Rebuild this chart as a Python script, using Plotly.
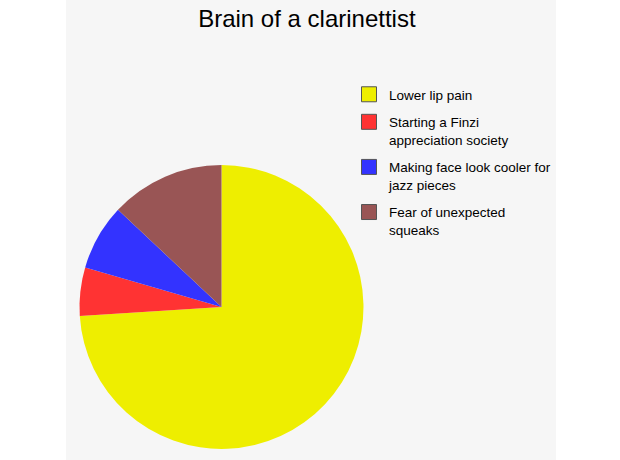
import plotly.graph_objects as go

# slices of the pie (percent)
labels = [
    "Lower lip pain",
    "Starting a Finzi<br>appreciation society",
    "Making face look cooler for<br>jazz pieces",
    "Fear of unexpected<br>squeaks",
]
values = [74, 5.5, 7.5, 13]
colors = ["#eeee00", "#ff3333", "#3333ff", "#995555"]

fig = go.Figure()

# the pie itself, starting at 12 o'clock and going clockwise
fig.add_trace(go.Pie(
    labels=labels,
    values=values,
    marker=dict(colors=colors, line=dict(width=0)),
    sort=False,
    direction="clockwise",
    rotation=0,
    textinfo="none",
    hoverinfo="label+percent",
    showlegend=False,
    domain=dict(x=[0.0276, 0.6071], y=[0.0239, 0.6413]),
))

# legend entries (one per slice) so the gap between items can be set
for lab, col in zip(labels, colors):
    fig.add_trace(go.Scatter(
        x=[None], y=[None], mode="markers", name=lab, legendgroup=lab,
        marker=dict(symbol="square", size=15, color=col,
                    line=dict(color="#555555", width=1)),
        hoverinfo="skip",
    ))

fig.update_xaxes(visible=False)
fig.update_yaxes(visible=False)

fig.update_layout(
    width=620, height=460,
    margin=dict(l=66, r=64, t=0, b=0),
    paper_bgcolor="white",
    plot_bgcolor="#f6f6f6",
    font=dict(family="Liberation Sans, Arial, sans-serif", color="black"),
    title=dict(text="Brain of a clarinettist", font=dict(size=24, color="black"),
               x=0.495, xref="container", xanchor="center",
               y=0.959, yref="container", yanchor="middle"),
    legend=dict(x=(349 - 66) / 490, xanchor="left", y=1 - 79 / 460, yanchor="top",
                font=dict(size=13.5, color="black"), bgcolor="rgba(0,0,0,0)",
                tracegroupgap=7, valign="top", traceorder="grouped"),
)

# page has a default 8px body margin; drop it so the chart sits at 0,0
fig.write_html("out.html", config={"displayModeBar": False},
               post_script="document.body.style.margin='0';")
